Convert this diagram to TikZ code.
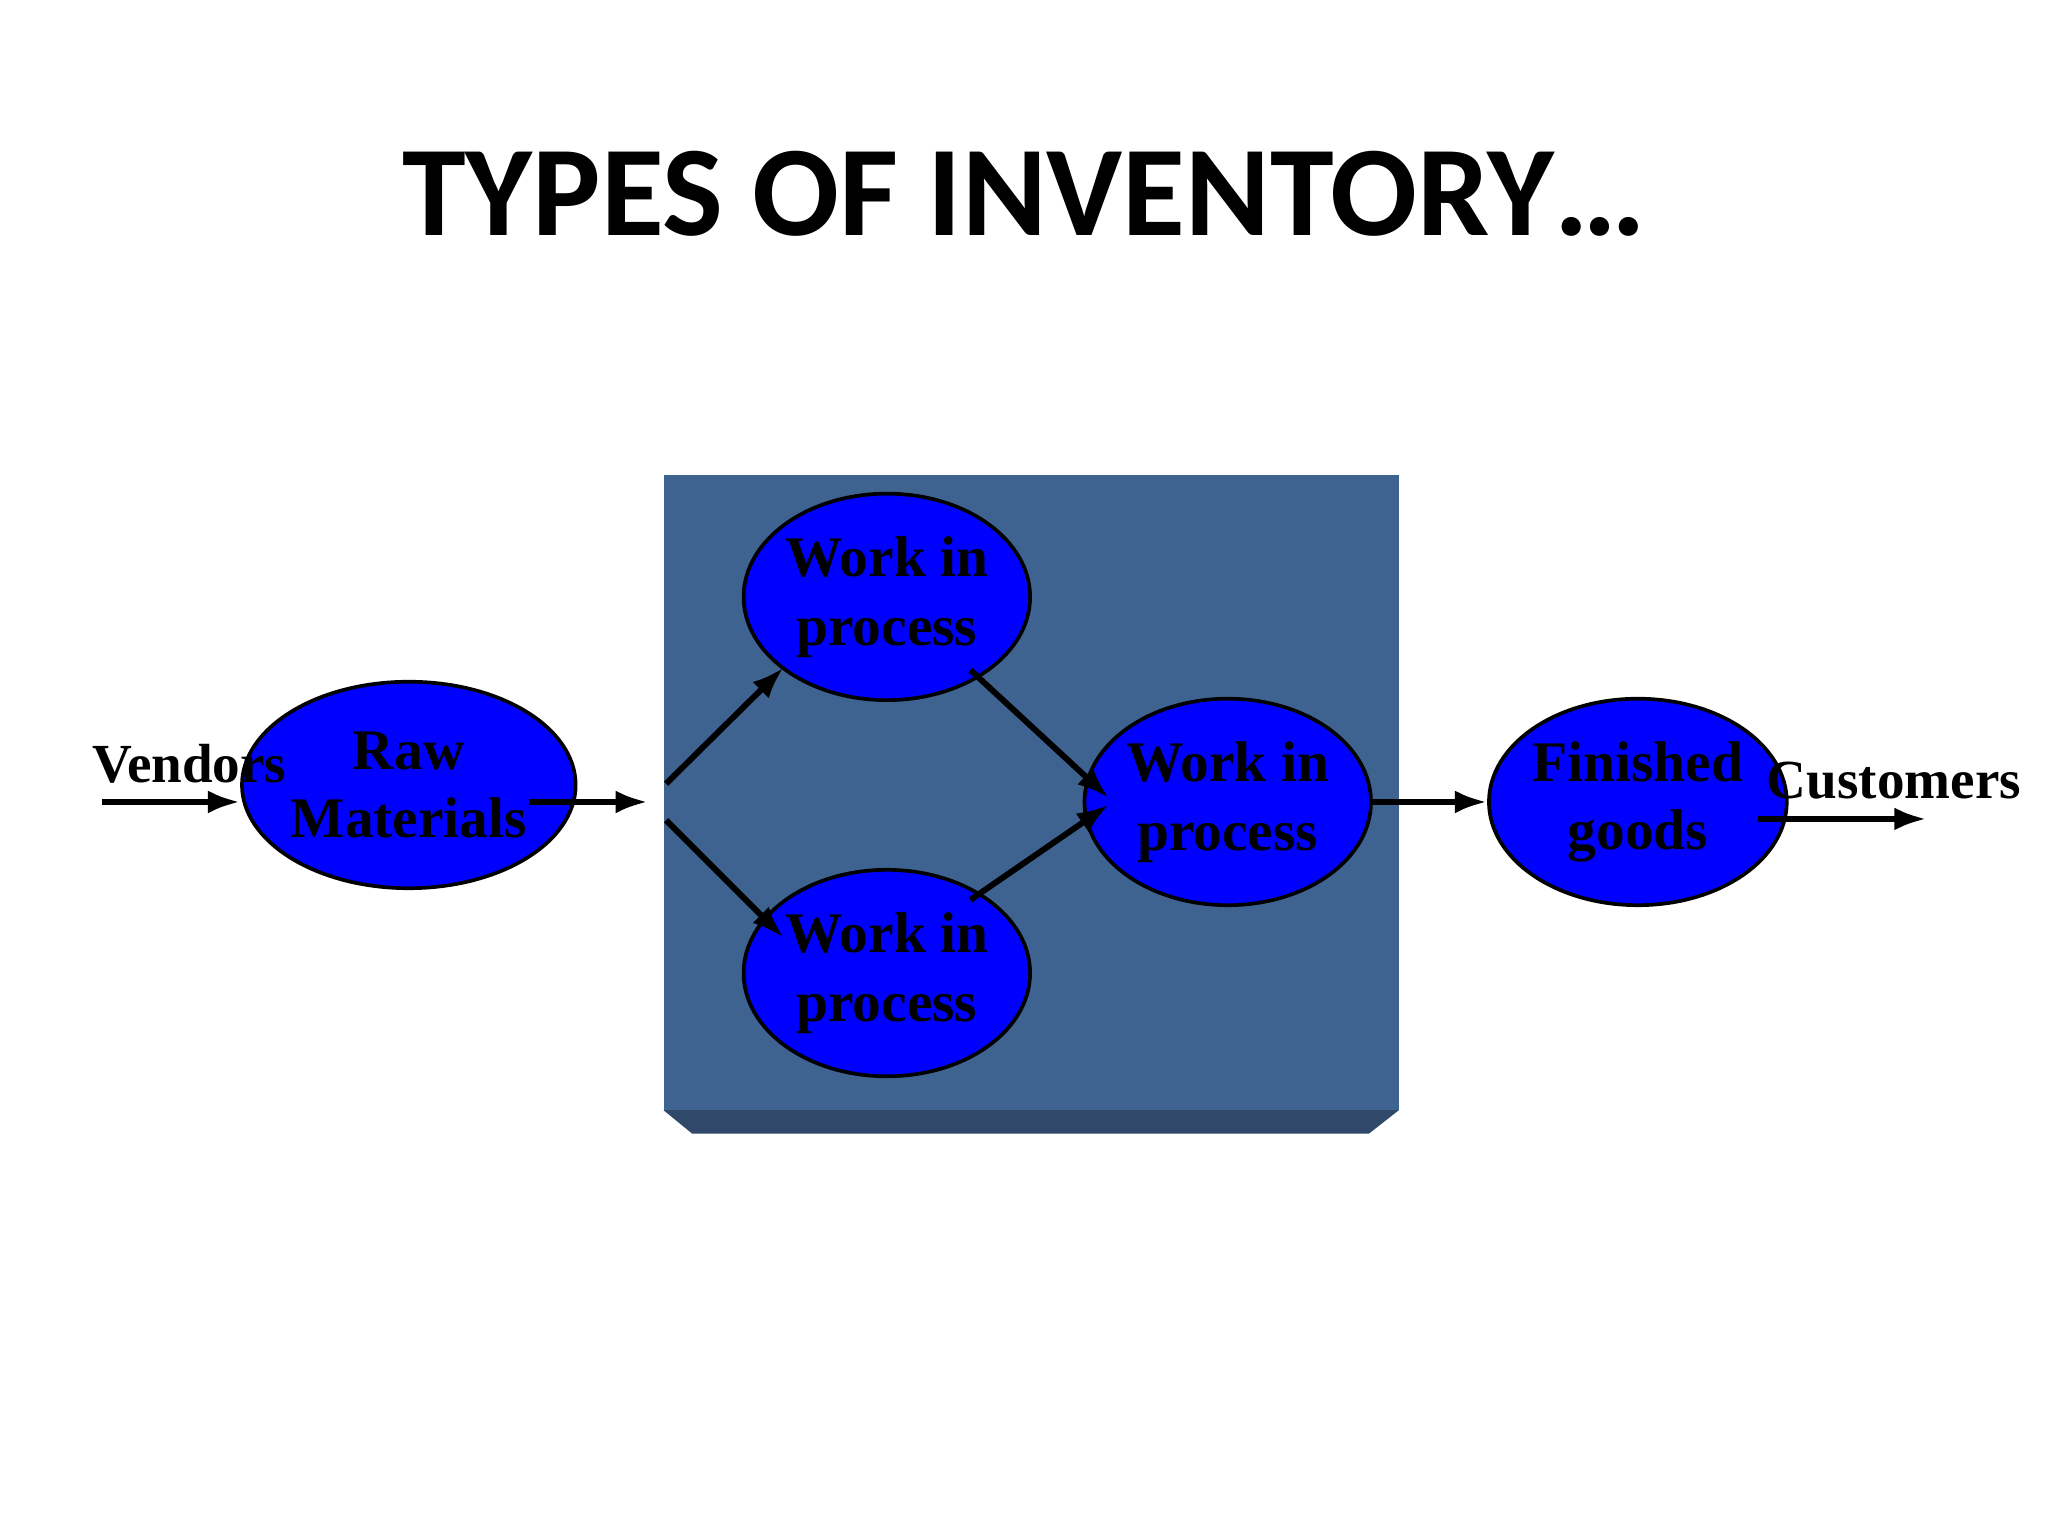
\documentclass[tikz,border=0pt]{standalone}
\usepackage{fontspec}
\setmainfont{Liberation Serif}
\newfontfamily\titlefont{Carlito}
\usetikzlibrary{arrows.meta,shapes.geometric}
\definecolor{boxc}{RGB}{62,99,144}
\definecolor{boxdark}{RGB}{48,72,106}
\definecolor{ellc}{RGB}{0,0,255}
\begin{document}
\begin{tikzpicture}[x=0.01cm,y=-0.01cm,
  e/.style={ellipse,draw=black,line width=0.8pt,fill=ellc,minimum width=1.83cm,minimum height=1.58cm,inner sep=0pt,font=\fontsize{12.5}{15}\selectfont\bfseries,align=center},
  lab/.style={font=\fontsize{12}{14}\selectfont\bfseries},
  arr/.style={-{Latex[length=7pt,width=5pt]},line width=1.3pt}]
\useasboundingbox (0,0) rectangle (1568,1176);
\fill[white] (0,0) rectangle (1568,1176);
\node[font=\titlefont\bfseries\fontsize{28}{30}\selectfont] (title) at (784,148) {TYPES OF INVENTORY…};
\fill[boxdark] (508,850) -- (1071,850) -- (1048,868) -- (530,868) -- cycle;
\fill[boxc] (508,364) rectangle (1071,850);
\node[e] (raw) at (313,601) {Raw\\Materials};
\node[e] (w1) at (679,457) {Work in\\process};
\node[e] (w2) at (679,745) {Work in\\process};
\node[e] (w3) at (940,614) {Work in\\process};
\node[e] (fg) at (1254,614) {Finished\\goods};
\node[lab] (ven) at (145,585) {Vendors};
\node[lab] (cus) at (1450,598) {Customers};
\coordinate (v0) at (78,614);
\coordinate (r1) at (405,614);
\coordinate (r2) at (496,614);
\coordinate (s1) at (510,600);
\coordinate (s2) at (510,628);
\coordinate (c1) at (1346,627);
\coordinate (c2) at (1475,627);
\draw[arr] (v0) -- (raw.west |- v0);
\draw[arr] (r1) -- (r2);
\draw[arr] (s1) -- (600,511);
\draw[arr] (s2) -- (600,718);
\draw[arr] (743,513) -- (849,611);
\draw[arr] (743,689) -- (849,616);
\draw[arr] (w3.east) -- (fg.west);
\draw[arr] (c1) -- (c2);
\end{tikzpicture}
\end{document}
